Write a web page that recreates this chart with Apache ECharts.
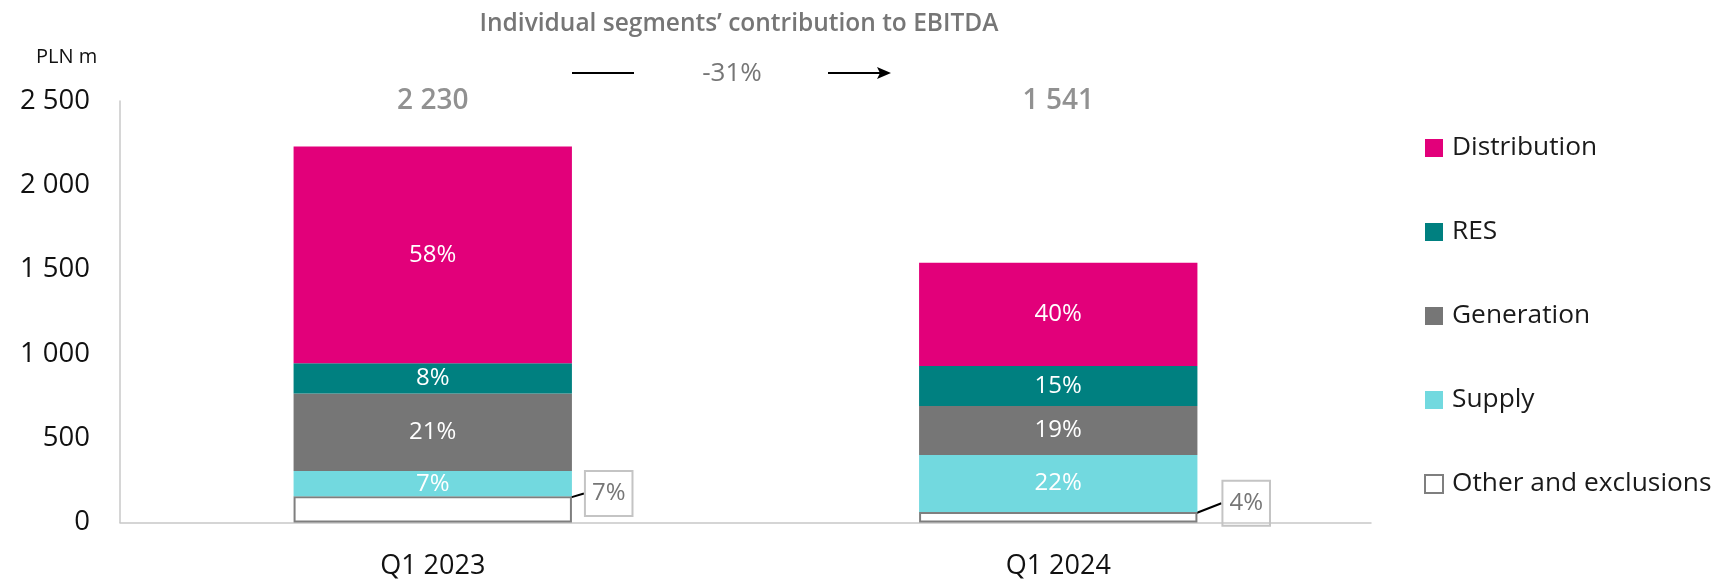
<!DOCTYPE html>
<html lang="en" style="height: 100%">

<head>
  <meta charset="utf-8">
  <style>
    body {
      margin: 0;
      height: 100%;
      background: #fff;
    }

    #container {
      width: 1734px;
      height: 582px;
    }
  </style>
</head>

<body>
  <div id="container"></div>

  <script type="text/javascript" src="https://fastly.jsdelivr.net/npm/echarts@6.0.0/dist/echarts.min.js"></script>

  <script>
    // data (PLN m)
    var quarters = ['Q1 2023', 'Q1 2024']
    var totals = [2230, 1541]
    var other = [155, 62]
    var supply = [150, 338]
    var generation = [460, 291]
    var res = [180, 237]
    var distribution = [1285, 613]
    var otherPct = ['7%', '4%']
    var supplyPct = ['7%', '22%']
    var generationPct = ['21%', '19%']
    var resPct = ['8%', '15%']
    var distributionPct = ['58%', '40%']
    var yTicks = [0, 500, 1000, 1500, 2000, 2500]
    var change = '-31%'

    var font = '"Open Sans", sans-serif'
    var grey = '#767676'
    // where the "other" boxes sit next to their bars
    var otherShift = [[0, -16], [12, -14]]

    function fmt(v) {
      return String(v).replace(/\B(?=(\d{3})+(?!\d))/g, ' ')
    }

    function insideLabel(texts) {
      return {
        show: true,
        position: 'inside',
        color: '#fff',
        fontFamily: font,
        fontSize: 24,
        formatter: function (p) { return texts[p.dataIndex] }
      }
    }

    function segment(name, data, color, texts) {
      return {
        name: name,
        type: 'bar',
        stack: 'total',
        barWidth: '44.5%',
        data: data,
        itemStyle: { color: color },
        label: insideLabel(texts)
      }
    }

    var dom = document.getElementById('container');
    var myChart = echarts.init(dom, null, { renderer: 'canvas' });

    var option = {
      animation: false,
      title: {
        text: 'Individual segments\u2019 contribution to EBITDA',
        left: 734,
        textAlign: 'center',
        top: 7,
        textStyle: { fontFamily: font, fontSize: 24.5, fontWeight: 600, color: grey }
      },
      legend: {
        orient: 'vertical',
        left: 1424,
        top: 135,
        padding: 0,
        icon: 'rect',
        itemWidth: 18,
        itemHeight: 18,
        itemGap: 58,
        data: ['Distribution', 'RES', 'Generation', 'Supply', 'Other and exclusions'],
        textStyle: { fontFamily: font, fontSize: 26.3, lineHeight: 26, color: '#1a1a1a', padding: [0, 0, 0, 4] }
      },
      grid: {
        left: 120,
        right: 363,
        top: 101,
        bottom: 59.5
      },
      xAxis: {
        type: 'category',
        data: quarters,
        axisLine: { lineStyle: { color: '#c8c8c8', width: 1.5 } },
        axisTick: { show: false },
        axisLabel: { fontFamily: font, fontSize: 27, color: '#111', margin: 30 }
      },
      yAxis: {
        type: 'value',
        min: yTicks[0],
        max: yTicks[yTicks.length - 1],
        interval: 500,
        splitLine: { show: false },
        axisLine: { show: true, lineStyle: { color: '#c8c8c8', width: 1.5 } },
        axisTick: { show: false },
        axisLabel: { fontFamily: font, fontSize: 27.5, color: '#111', margin: 30, formatter: fmt }
      },
      graphic: [
        { type: 'text', left: 36, top: 47, style: { text: 'PLN m', font: '20px ' + font, fill: '#111' } },
        { type: 'line', shape: { x1: 572, y1: 73, x2: 634, y2: 73 }, style: { stroke: '#000', lineWidth: 2 } },
        { type: 'text', x: 732, y: 74, style: { text: change, font: '26px ' + font, fill: grey, align: 'center', verticalAlign: 'middle' } },
        { type: 'line', shape: { x1: 828, y1: 73, x2: 882, y2: 73 }, style: { stroke: '#000', lineWidth: 2 } },
        { type: 'polygon', shape: { points: [[877, 67], [891, 73], [877, 79], [880, 73]] }, style: { fill: '#000' } }
      ],
      series: [
        {
          name: 'Other and exclusions',
          type: 'bar',
          stack: 'total',
          barWidth: '44.5%',
          data: other,
          itemStyle: { color: '#fff', borderColor: '#7f7f7f', borderWidth: 2 },
          label: {
            show: true,
            position: 'right',
            distance: 13,
            color: grey,
            fontFamily: font,
            fontSize: 24,
            lineHeight: 26,
            borderColor: '#c4c4c4',
            borderWidth: 2,
            padding: [10, 7, 9, 7],
            formatter: function (p) { return otherPct[p.dataIndex] }
          },
          labelLayout: function (p) {
            return { dx: otherShift[p.dataIndex][0], dy: otherShift[p.dataIndex][1] }
          },
          labelLine: { show: true, lineStyle: { color: '#000', width: 2 } }
        },
        segment('Supply', supply, '#72d9df', supplyPct),
        segment('Generation', generation, '#767676', generationPct),
        segment('RES', res, '#008080', resPct),
        segment('Distribution', distribution, '#e2007a', distributionPct),
        {
          name: 'totals',
          type: 'scatter',
          symbolSize: 0,
          data: quarters.map(function (q) { return [q, yTicks[yTicks.length - 1]] }),
          label: {
            show: true,
            position: 'inside',
            offset: [0, 0],
            color: grey,
            fontFamily: font,
            fontSize: 28,
            fontWeight: 600,
            formatter: function (p) { return fmt(totals[p.dataIndex]) }
          }
        }
      ]
    };

    if (option && typeof option === 'object') {
      myChart.setOption(option);
    }

    window.addEventListener('resize', myChart.resize);
  </script>
</body>

</html>
